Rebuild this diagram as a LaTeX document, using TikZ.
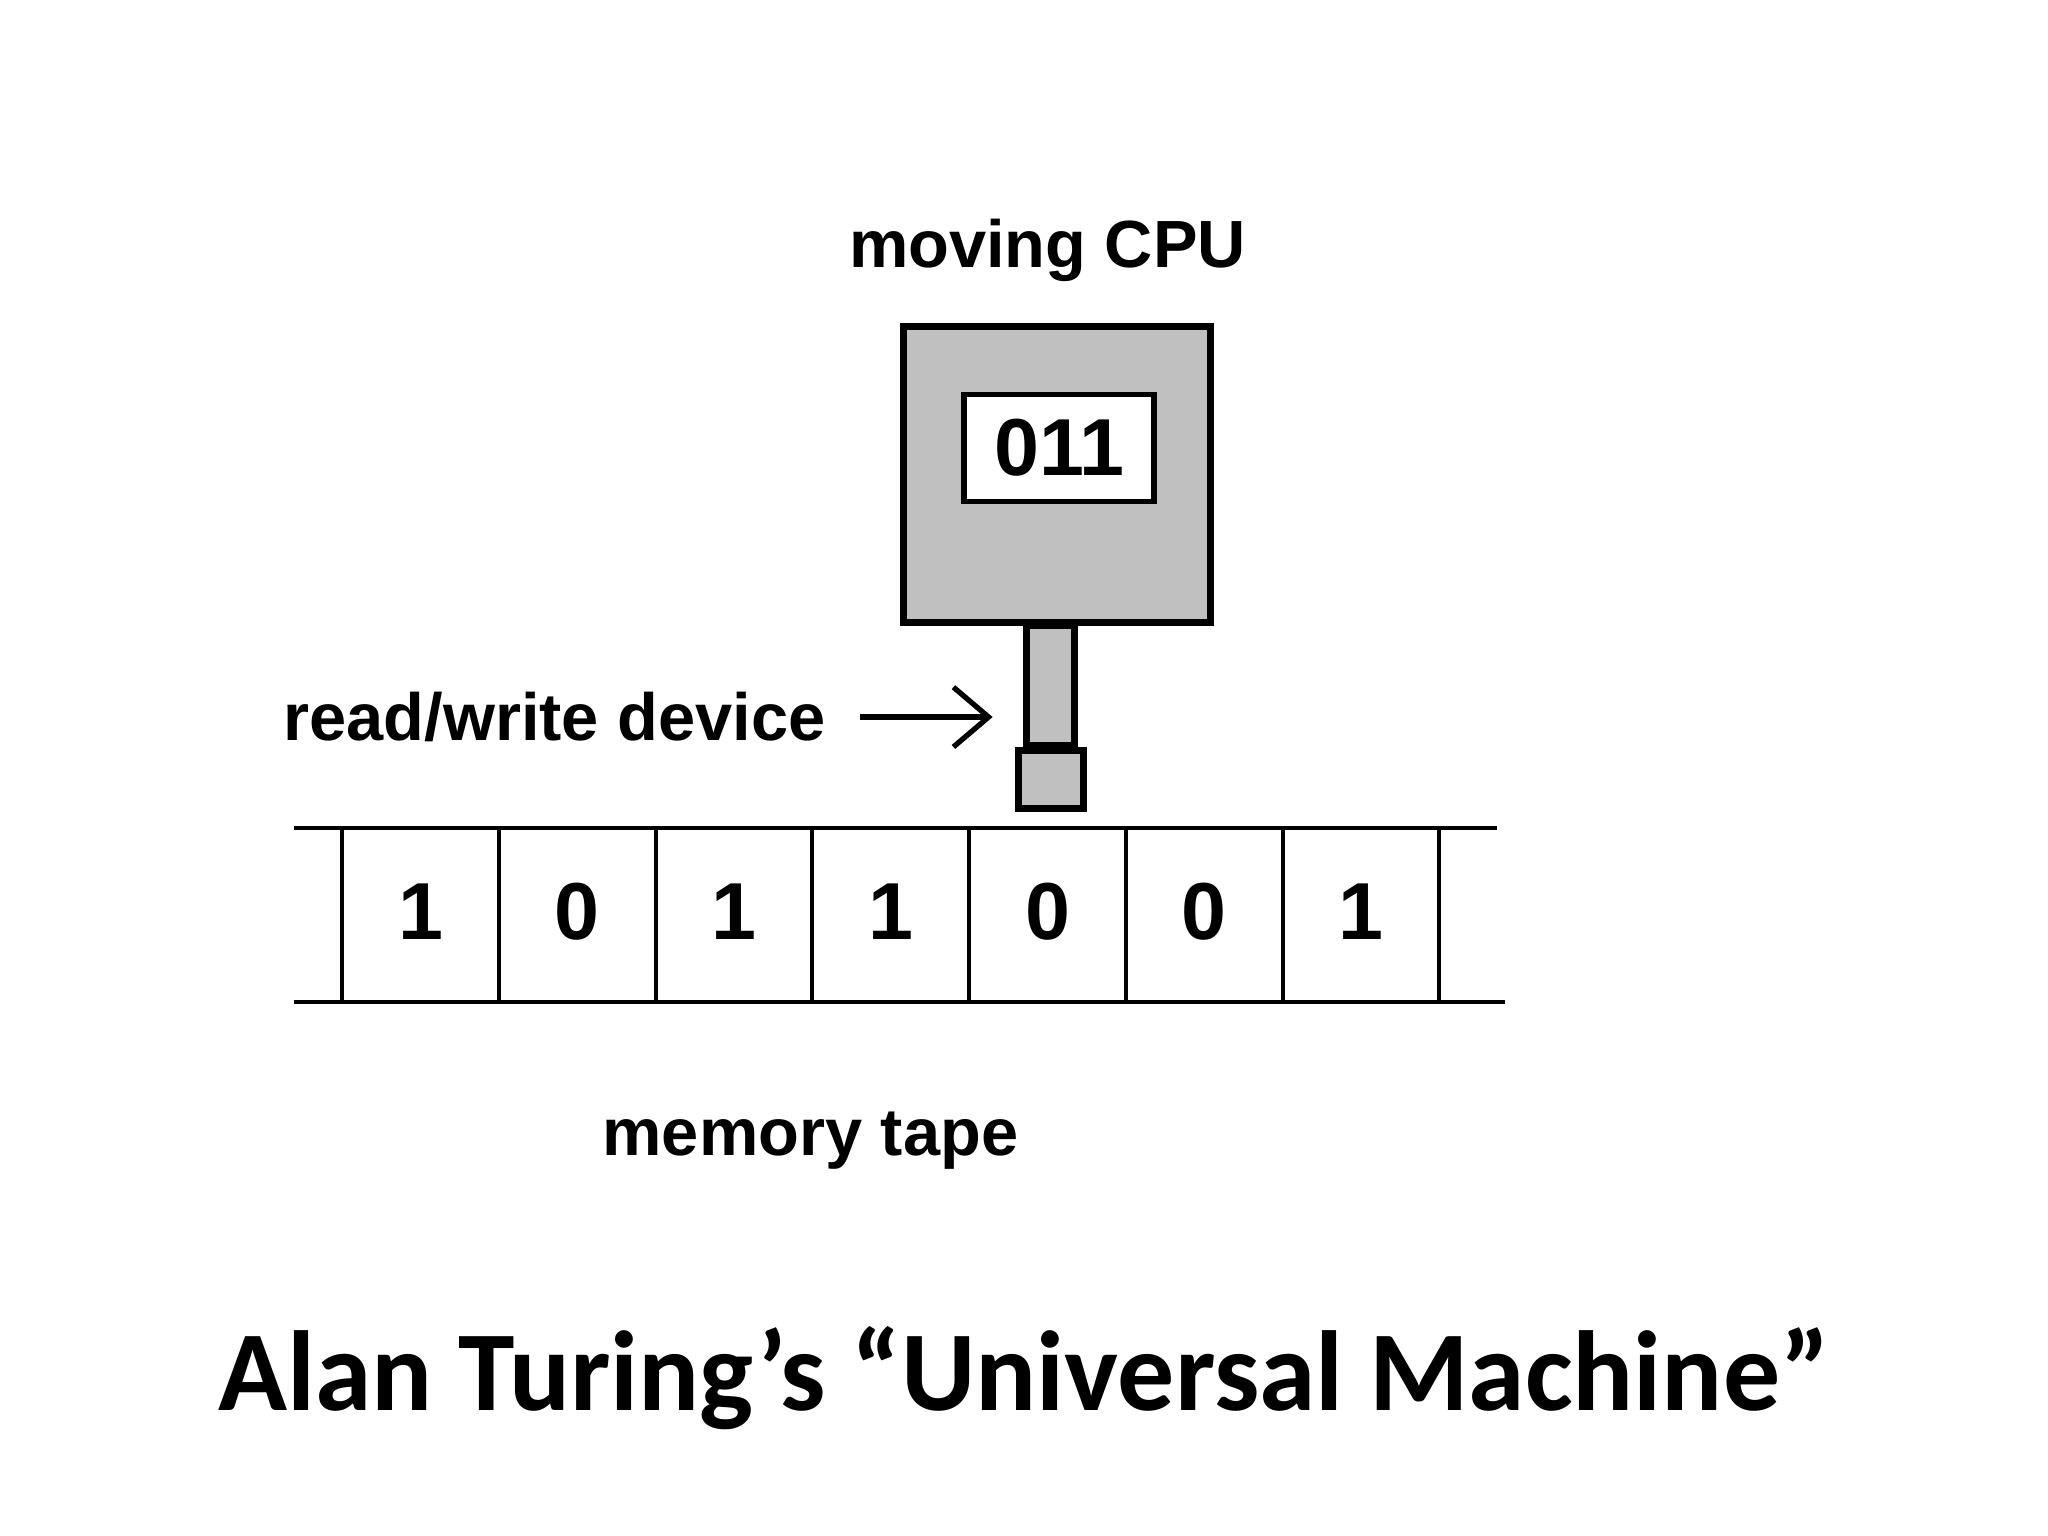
\documentclass[tikz,border=0pt]{standalone}
\usepackage{fontspec}
\setmainfont{Liberation Sans}
\newfontfamily\titlefont{Carlito}
\usetikzlibrary{arrows.meta,positioning}
\definecolor{CpuGrey}{HTML}{C0C0C0}

\begin{document}
\begin{tikzpicture}[
    x=0.013061cm, y=-0.013061cm,
    lbl/.style={font=\fontsize{19}{23}\selectfont\bfseries, inner sep=0pt},
    digit/.style={font=\fontsize{23}{27}\selectfont\bfseries, inner sep=0pt},
    cpubox/.style={draw, line width=2pt, fill=CpuGrey,
      minimum width=3.07cm, minimum height=2.96cm, inner sep=0pt},
    regbox/.style={draw, line width=1.6pt, fill=white,
      minimum width=1.9cm, minimum height=1.07cm, inner sep=0pt,
      font=\fontsize{23}{27}\selectfont\bfseries},
    part/.style={draw, line width=2pt, fill=CpuGrey, inner sep=0pt},
    tape/.style={line width=1.1pt},
    pointer/.style={-{Straight Barb[length=10pt, width=17pt]}, line width=1.5pt}
  ]
    \useasboundingbox (0,0) rectangle (1568,1176);

    % the moving CPU
    \node[lbl] (cpulbl) at (802,192) {moving CPU};
    \node[cpubox] (cpu) at (809.5,363.5) {};
    \node[regbox] (reg) at (811,343) {011};
    \node[part, minimum width=0.48cm, minimum height=1.2cm] (stem) at (804.5,524.5) {};
    \node[part, minimum width=0.65cm, minimum height=0.58cm] (head) at (804.5,597) {};

    % read/write device
    \node[lbl] (rw) at (424.5,549) {read/write device};
    \coordinate (rwtip) at (760,549);
    \draw[pointer, shorten <=0.34cm] (rw.east) -- (rwtip);

    % memory tape
    \draw[tape] (225,634) -- (1146,634);
    \draw[tape] (225,767) -- (1152,767);
    \foreach \k in {0,...,7}
      \draw[tape] (262+120*\k,634) -- (262+120*\k,767);
    \foreach \v [count=\i] in {1,0,1,1,0,0,1}
      \node[digit] (cell\i) at (322+120*\i-120,698) {\v};
    \node[lbl] (tapelbl) at (620.5,873) {memory tape};

    % caption
    \node[font=\titlefont\fontsize{32.4}{38}\selectfont\bfseries, inner sep=0pt] (title) at (784,1055) {Alan Turing’s “Universal Machine”};
  \end{tikzpicture}
\end{document}
